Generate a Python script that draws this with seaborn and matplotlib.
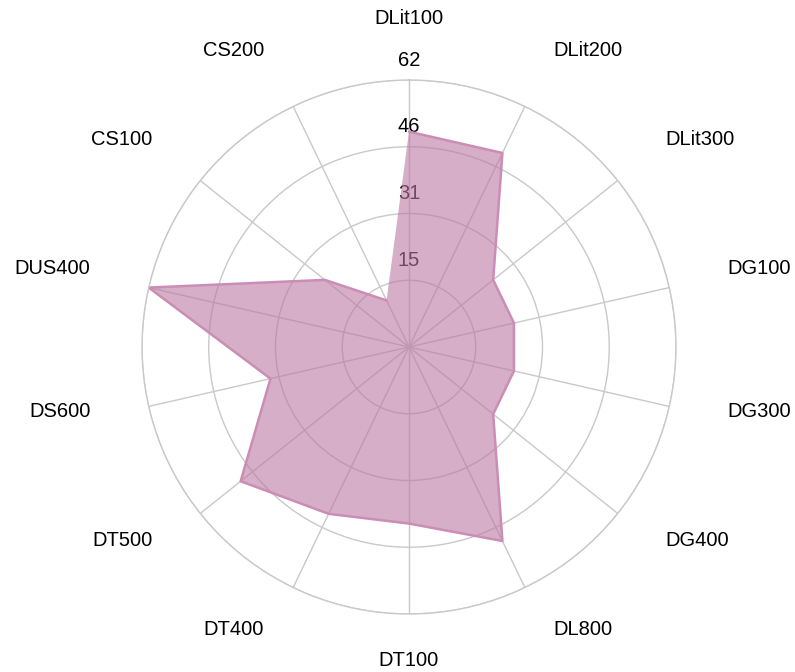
import numpy as np
import pandas as pd
import matplotlib
matplotlib.use("Agg")
import matplotlib.pyplot as plt
import seaborn as sns

categories = ["DLit100", "DLit200", "DLit300", "DG100", "DG300", "DG400", "DL800",
              "DT100", "DT400", "DT500", "DS600", "DUS400", "CS100", "CS200"]
values = [50, 50, 25, 25, 25, 25, 50, 41, 43, 50, 33, 62, 25, 12]
ring_values = [15.5, 31, 46.5, 62]
ring_labels = ["15", "31", "46", "62"]
r_max = 62

sns.set_theme(style="white")
plt.rcParams["font.family"] = ["Liberation Sans", "DejaVu Sans"]

W, H = 795, 672
fig = plt.figure(figsize=(W / 100, H / 100), dpi=100)
cx, cy, R = 409, 347, 267
ax = fig.add_axes([(cx - R) / W, (H - cy - R) / H, 2 * R / W, 2 * R / H], projection="polar")
ax.set_theta_zero_location("N")
ax.set_theta_direction(-1)

n = len(categories)
theta = np.linspace(0, 2 * np.pi, n, endpoint=False)
df = pd.DataFrame({"theta": np.append(theta, theta[0]),
                   "value": values + values[:1]})

grid_col = "#C9C9C9"
ax.set_ylim(0, r_max)
ax.set_yticks(ring_values)
ax.set_yticklabels([])
ax.set_xticks(theta)
ax.set_xticklabels([])
ax.grid(True, color=grid_col, linewidth=1.0)
ax.spines["polar"].set_color(grid_col)
ax.spines["polar"].set_linewidth(1.0)
ax.set_axisbelow(True)

# radial tick labels (under the fill)
for rv, rl in zip(ring_values, ring_labels):
    ax.annotate(rl, xy=(0, rv), xytext=(0, 20), textcoords="offset pixels",
                ha="center", va="center", fontsize=14.5, color="#000000",
                zorder=1, annotation_clip=False)

base = "#BB78A3"
ax.fill(df["theta"], df["value"], facecolor=base, alpha=0.6, edgecolor="none", zorder=2)
sns.lineplot(data=df, x="theta", y="value", ax=ax, sort=False, color="#CB8DB5",
             linewidth=1.8, zorder=2.5, legend=False)
ax.set_xlabel("")
ax.set_ylabel("")

# category labels
r_lab = 321 / R * r_max
for t, lab in zip(theta, categories):
    deg = np.degrees(t)
    if np.isclose(deg, 0) or np.isclose(deg, 180):
        ha, dx = "center", 0
    elif deg < 180:
        ha, dx = "left", 5.5
    else:
        ha, dx = "right", -5.5
    ax.annotate(lab, xy=(t, r_lab), xytext=(dx, 7), textcoords="offset pixels",
                ha=ha, va="center", fontsize=14.5, color="#000000",
                annotation_clip=False, zorder=4)

fig.savefig("out.png", dpi=100)
